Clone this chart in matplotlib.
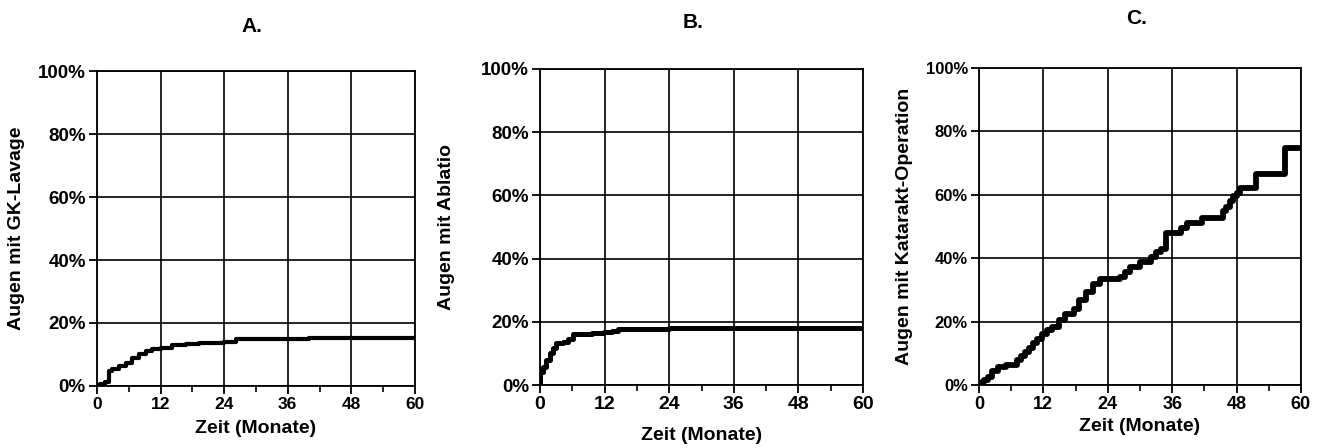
import matplotlib
matplotlib.use('Agg')
import matplotlib.pyplot as plt
from matplotlib.ticker import FuncFormatter, MultipleLocator

# Data (months, cumulative %)
a_time = [0, 0.6, 1.6, 2.2, 2.8, 4.1, 5.4, 6.6, 7.9, 9.2, 10.4, 12.0, 14.2, 16.8, 19.3, 22.0, 24.0, 26.3, 40.0, 60.0]
a_pct = [0, 0.6, 1.3, 4.9, 5.4, 6.4, 7.4, 8.8, 10.0, 11.0, 11.8, 12.2, 12.9, 13.3, 13.6, 13.8, 14.0, 14.9, 15.1, 15.2]

b_time = [0, 0.05, 0.6, 1.2, 1.8, 2.4, 3.0, 4.2, 5.2, 6.1, 7.9, 9.7, 11.8, 13.3, 14.5, 24.0, 60.0]
b_pct = [0, 4.2, 5.8, 7.9, 10.0, 11.6, 13.2, 13.7, 14.7, 16.1, 16.3, 16.5, 16.8, 17.2, 17.6, 18.1, 18.2]

c_time = [0, 0.5, 1.0, 1.6, 2.4, 3.5, 5.1, 7.0, 7.8, 8.5, 9.3, 10.1, 10.9, 11.7, 12.6, 13.6, 14.9, 16.1, 17.7,
          18.7, 19.9, 21.2, 22.5, 26.3, 27.2, 28.1, 30.0, 32.0, 32.9, 34.0, 34.9, 37.7, 38.7, 41.5, 45.5, 46.1,
          46.7, 47.3, 48.0, 48.6, 51.7, 57.0, 60.0]
c_pct = [0, 0.8, 1.6, 2.6, 4.3, 5.8, 6.3, 7.9, 9.2, 10.5, 11.8, 13.1, 14.6, 16.2, 17.2, 18.3, 20.4, 22.5, 24.1,
         26.7, 29.4, 32.0, 33.5, 34.1, 35.6, 37.2, 38.8, 40.4, 41.9, 43.0, 48.0, 49.5, 51.1, 52.6, 54.8, 56.3,
         57.9, 59.5, 60.5, 62.1, 66.5, 74.7, 74.7]

ylabels = ['Augen mit GK-Lavage', 'Augen mit Ablatio', 'Augen mit Katarakt-Operation']
titles = ['A.', 'B.', 'C.']
x_ticks = [0, 12, 24, 36, 48, 60]

plt.rcParams['font.family'] = ['Liberation Sans', 'DejaVu Sans']
plt.rcParams['font.weight'] = 'bold'

fig = plt.figure(figsize=(13.19, 4.48), dpi=100)
fig.patch.set_facecolor('white')

boxes = [(0.0735, 0.1384, 0.2411, 0.7031),
         (0.4094, 0.1406, 0.2449, 0.7054),
         (0.7422, 0.1406, 0.2441, 0.7076)]
series = [(a_time, a_pct, 3.0), (b_time, b_pct, 3.6), (c_time, c_pct, 4.2)]
ytick_size = [13.5, 13.5, 12]
xtick_size = [12.5, 14, 13]
ylab_x = [-0.226, -0.263, -0.205]
xlab_y = [-0.108, -0.133, -0.104]
title_pos = [(252, 27), (693, 22), (1137, 18)]

for i, ax_box in enumerate(boxes):
    ax = fig.add_axes(ax_box)
    t, p, lw = series[i]
    ax.step(t, p, where='post', color='black', linewidth=lw, solid_capstyle='butt', zorder=3)
    ax.set_xlim(0, 60)
    ax.set_ylim(0, 100)
    ax.set_xticks(x_ticks)
    ax.xaxis.set_minor_locator(MultipleLocator(6))
    ax.set_yticks([0, 20, 40, 60, 80, 100])
    ax.yaxis.set_major_formatter(FuncFormatter(lambda v, pos: f'{v:.0f}%'))
    ax.grid(True, which='major', color='black', linewidth=1.2)
    for s in ax.spines.values():
        s.set_linewidth(1.3)
    ax.tick_params(axis='both', which='major', direction='out', length=6, width=1.3, color='black')
    ax.tick_params(axis='x', which='minor', direction='out', length=4, width=1.2)
    ax.tick_params(axis='y', labelsize=ytick_size[i], pad=2)
    ax.tick_params(axis='x', labelsize=xtick_size[i], pad=2)
    for lab in ax.get_xticklabels() + ax.get_yticklabels():
        lab.set_fontweight('bold')
    ax.set_xlabel('Zeit (Monate)', fontsize=14, fontweight='bold')
    ax.xaxis.set_label_coords(0.5, xlab_y[i])
    ax.set_ylabel(ylabels[i], fontsize=14, fontweight='bold')
    ax.yaxis.set_label_coords(ylab_x[i], 0.5)
    fig.text(title_pos[i][0] / 1319, 1 - title_pos[i][1] / 448, titles[i],
             ha='center', va='center', fontsize=15, fontweight='bold')

plt.savefig('out.png', dpi=100, facecolor=fig.get_facecolor())
